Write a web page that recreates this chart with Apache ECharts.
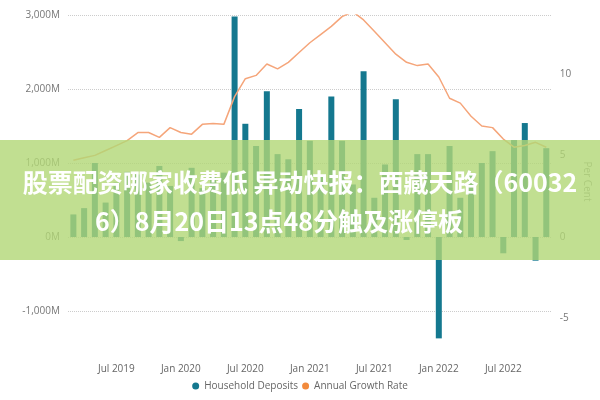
<!DOCTYPE html>
<html><head><meta charset="utf-8">
<script src="https://cdn.jsdelivr.net/npm/echarts@6/dist/echarts.min.js"></script>
<style>html,body{margin:0;padding:0;background:#fff}#c{width:600px;height:400px}</style>
</head><body><div id="c"></div>
<script>
// monthly categories, Mar 2019 .. Nov 2022
const months = ['Jan','Feb','Mar','Apr','May','Jun','Jul','Aug','Sep','Oct','Nov','Dec'];
const categories = [];
for (let k = 0; k < 45; k++) {
  const m = (2 + k) % 12, y = 2019 + Math.floor((2 + k) / 12);
  categories.push(months[m] + ' ' + y);
}
// household deposits, millions
const deposits = [305,390,1000,465,735,880,845,735,960,690,-55,935,660,825,870,
  2980,1530,1230,1970,1120,1050,1730,1300,820,1900,1300,710,2240,530,980,
  1860,-40,1120,1120,-1370,1230,530,850,1000,1160,-220,1310,1540,-320,1200];
// annual growth rate, per cent
const growth = [4.7,4.85,5.0,5.3,5.6,5.9,6.4,6.4,6.1,6.7,6.4,6.3,6.9,6.95,6.9,
  8.6,9.7,9.9,10.6,10.3,10.7,11.3,11.9,12.4,12.9,13.5,13.8,13.3,12.6,11.9,
  11.2,10.7,10.5,10.6,9.8,8.5,8.2,7.4,6.8,6.7,6.0,5.5,5.6,5.8,5.5];
const shownTicks = ['Jul 2019','Jan 2020','Jul 2020','Jan 2021','Jul 2021','Jan 2022','Jul 2022'];
const title1 = '股票配资哪家收费低 异动快报：西藏天路（60032';
const title2 = '6）8月20日13点48分触及涨停板';

const chart = echarts.init(document.getElementById('c'));
const font = 'Open Sans, sans-serif';
chart.setOption({
  animation: false,
  grid: {left: 68, right: 40, top: 15, bottom: 52},
  legend: {
    bottom: 4, left: 'center', itemWidth: 7, itemHeight: 7, itemGap: 4,
    textStyle: {color: '#666', fontSize: 10, fontFamily: font},
    data: [{name: 'Household Deposits', icon: 'circle'}, {name: 'Annual Growth Rate', icon: 'circle'}]
  },
  xAxis: {
    type: 'category', data: categories,
    axisLine: {show: false}, axisTick: {show: false},
    axisLabel: {
      color: '#666', fontSize: 10, fontFamily: font, margin: 16,
      interval: (i, v) => shownTicks.includes(v)
    }
  },
  yAxis: [{
    type: 'value', min: -1500, max: 3000, interval: 500,
    axisLabel: {color: '#777', fontSize: 10, fontFamily: font,
      formatter: v => (v % 1000 === 0 && v !== -1500) ? (v === 0 ? '0M' : (v < 0 ? '-' : '') + Math.abs(v / 1000) + ',000M') : ''},
    splitLine: {lineStyle: {type: 'dotted', color: ['transparent', '#ccc']}}
  }, {
    type: 'value', min: -6.8, max: 13.6,
    name: 'Per Cent', nameLocation: 'middle', nameGap: 28, nameRotate: 270,
    nameTextStyle: {color: '#999', fontSize: 10, fontFamily: font},
    axisLabel: {color: '#777', fontSize: 10, fontFamily: font, customValues: [-5, 0, 5, 10]},
    splitLine: {show: false}
  }],
  series: [{
    name: 'Household Deposits', type: 'bar', data: deposits, barWidth: 6,
    itemStyle: {color: '#14788f'}
  }, {
    name: 'Annual Growth Rate', type: 'line', yAxisIndex: 1, data: growth,
    symbol: 'none', lineStyle: {color: '#f5a57a', width: 1.5}, itemStyle: {color: '#f28a3c'}
  }],
  graphic: [
    {type: 'rect', shape: {x: 0, y: 140, width: 600, height: 120},
      style: {fill: 'rgba(178,215,118,0.8)'}, z: 100},
    {type: 'text', x: 300, y: 182, z: 101,
      style: {text: title1, fill: '#fff', font: 'bold 25px "Noto Sans CJK SC"', align: 'center', verticalAlign: 'middle'}},
    {type: 'text', x: 95, y: 221, z: 101,
      style: {text: title2, fill: '#fff', font: 'bold 25px "Noto Sans CJK SC"', align: 'left', verticalAlign: 'middle'}}
  ]
});
</script></body></html>
